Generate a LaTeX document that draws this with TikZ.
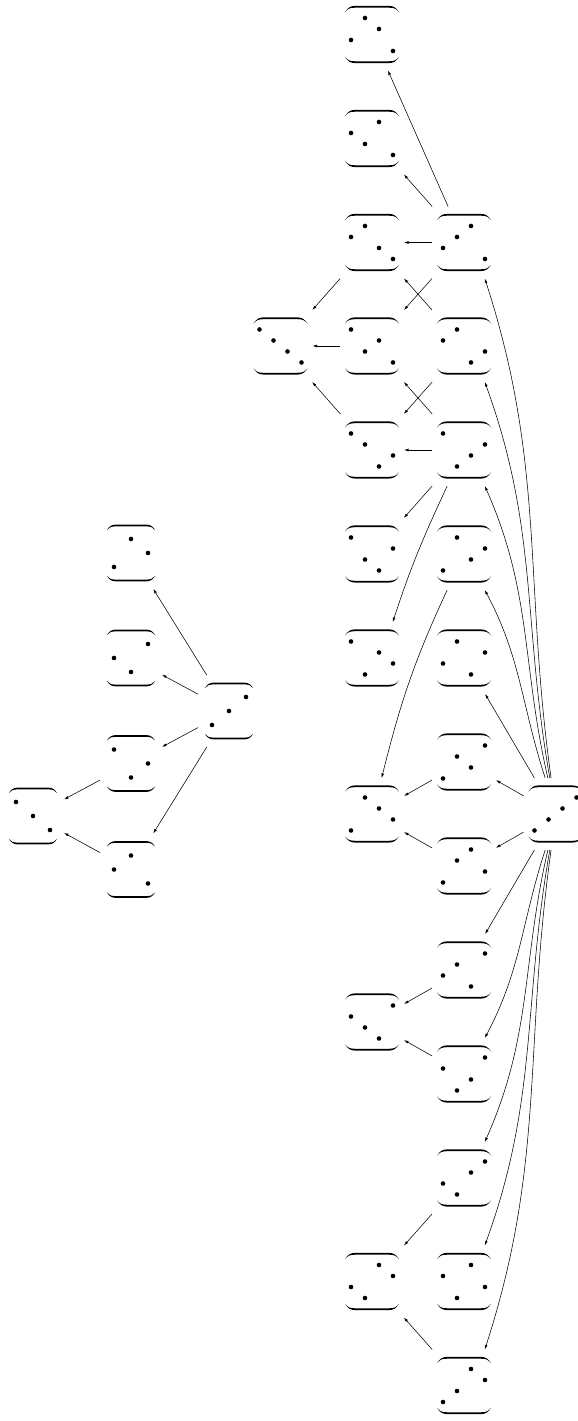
\documentclass[tikz,border=0pt]{standalone}
\usetikzlibrary{arrows.meta}
\tikzset{
  boxfour/.style={shape=rectangle,draw=none,inner sep=0pt,outer sep=0pt,minimum width=64pt,minimum height=72pt},
  boxthree/.style={shape=rectangle,draw=none,inner sep=0pt,outer sep=0pt,minimum width=62pt,minimum height=72pt},
  arr/.style={line width=0.55pt,-{Latex[length=4.5pt,width=2.8pt]}},
  brfour/.pic={
    \foreach \s in {1,-1}{
      \fill[yscale=\s] (-27,22.3) .. controls (-24.5,26.3) and (-22,28.6) .. (-17,28.6) -- (17,28.6)
        .. controls (22,28.6) and (24.5,26.3) .. (27,22.3)
        .. controls (24.6,25.6) and (22.2,26.8) .. (17,26.8) -- (-17,26.8)
        .. controls (-22.2,26.8) and (-24.6,25.6) .. (-27,22.3) -- cycle;
    }
  },
  brthree/.pic={
    \foreach \s in {1,-1}{
      \fill[yscale=\s] (-24,23) .. controls (-21.8,26.6) and (-19.5,28.4) .. (-15,28.4) -- (15,28.4)
        .. controls (19.5,28.4) and (21.8,26.6) .. (24,23)
        .. controls (21.9,25.9) and (19.7,26.6) .. (15,26.6) -- (-15,26.6)
        .. controls (-19.7,26.6) and (-21.9,25.9) .. (-24,23) -- cycle;
    }
  }
}
\newcommand\pfour[4]{%
  \node[boxfour] (#1) at (#2,{1421-#3}) {};
  \pic at (#1) {brfour};
  \foreach \c [count=\r] in {#4} \fill (#1) ++({14*\c-35},{27.5-11*\r}) circle (2.3);
}
\newcommand\pthree[4]{%
  \node[boxthree] (#1) at (#2,{1421-#3}) {};
  \pic at (#1) {brthree};
  \foreach \c [count=\r] in {#4} \fill (#1) ++({17*\c-34},{28-14*\r}) circle (2.3);
}
\begin{document}
\begin{tikzpicture}[x=1pt,y=1pt]
\fill[white] (0,0) rectangle (578,1421);
\useasboundingbox (0,0) rectangle (578,1421);
% S3
\pthree{A}{131}{553}{2,3,1}
\pthree{B}{131}{658}{3,1,2}
\pthree{C}{229}{711}{3,2,1}
\pthree{D}{131}{763.5}{1,3,2}
\pthree{E}{33}{816}{1,2,3}
\pthree{F}{131}{869.5}{2,1,3}
\draw[arr] (C) -- (A);
\draw[arr] (C) -- (B);
\draw[arr] (C) -- (D);
\draw[arr] (C) -- (F);
\draw[arr] (D) -- (E);
\draw[arr] (F) -- (E);
% S4
\pfour{a1}{372}{34.5}{2,3,1,4}
\pfour{a2}{372}{138.5}{3,1,2,4}
\pfour{a3}{372}{242.5}{2,1,3,4}
\pfour{a4}{372}{346}{1,3,2,4}
\pfour{a5}{372}{450}{1,2,4,3}
\pfour{a6}{372}{554}{1,4,2,3}
\pfour{a7}{372}{658}{1,3,4,2}
\pfour{a8}{372}{814}{2,3,4,1}
\pfour{a9}{372}{1022}{4,1,2,3}
\pfour{a10}{372}{1281.5}{3,4,1,2}
\pfour{b1}{464}{242.5}{3,2,1,4}
\pfour{b2}{464}{346}{2,1,4,3}
\pfour{b3}{464}{450}{1,4,3,2}
\pfour{b4}{464}{554}{2,4,3,1}
\pfour{b5}{464}{658}{2,4,1,3}
\pfour{b6}{464}{762}{4,2,3,1}
\pfour{b7}{464}{866}{3,2,4,1}
\pfour{b8}{464}{970}{4,2,1,3}
\pfour{b9}{464}{1074}{4,1,3,2}
\pfour{b10}{464}{1178}{4,3,1,2}
\pfour{b11}{464}{1281.5}{3,1,4,2}
\pfour{b12}{464}{1385.5}{3,4,2,1}
\pfour{I}{280.5}{346}{1,2,3,4}
\pfour{T}{555.5}{814}{4,3,2,1}
% edges from top
\draw[arr] (T.97) to[out=98,in=-72] (b1.-60);
\draw[arr] (T.99) to[out=100,in=-70] (b2.-60);
\draw[arr] (T.102) to[out=103,in=-66] (b3.-60);
\draw[arr] (T.106) to[out=108,in=-62] (b4.-60);
\draw[arr] (T) -- (b5);
\draw[arr] (T) -- (b6);
\draw[arr] (T) -- (b7);
\draw[arr] (T) -- (b8);
\draw[arr] (T.-106) to[out=-108,in=62] (b9.60);
\draw[arr] (T.-102) to[out=-103,in=66] (b10.60);
\draw[arr] (T.-99) to[out=-100,in=70] (b11.60);
\draw[arr] (T.-97) to[out=-98,in=72] (b12.60);
% middle edges
\draw[arr] (b1) -- (a1);
\draw[arr] (b1) -- (a2);
\draw[arr] (b1) -- (a3);
\draw[arr] (b1) -- (a4);
\draw[arr] (b2) -- (a3);
\draw[arr] (b2) -- (a5);
\draw[arr] (b3) -- (a4);
\draw[arr] (b3) -- (a5);
\draw[arr] (b3) -- (a6);
\draw[arr] (b3.245) to[out=245,in=72] (a7.60);
\draw[arr] (b4.245) to[out=245,in=76] (a8.75);
\draw[arr] (b6) -- (a8);
\draw[arr] (b7) -- (a8);
\draw[arr] (b8) -- (a9);
\draw[arr] (b9) -- (a9);
\draw[arr] (b10) -- (a10);
\draw[arr] (b12) -- (a10);
\draw[arr] (a3) -- (I);
\draw[arr] (a4) -- (I);
\draw[arr] (a5) -- (I);
\end{tikzpicture}
\end{document}
